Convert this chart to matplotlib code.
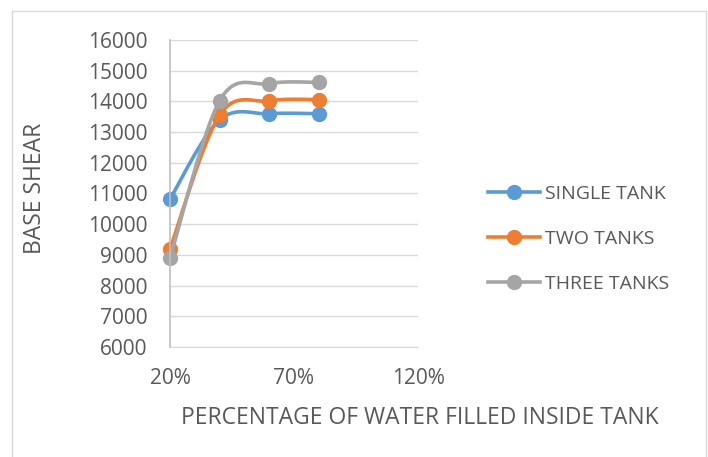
import numpy as np
import matplotlib
matplotlib.use("Agg")
import matplotlib.pyplot as plt
from matplotlib.patches import Rectangle
from matplotlib.lines import Line2D

plt.rcParams['font.family'] = ['Open Sans', 'DejaVu Sans']

x_vals = [0.2, 0.4, 0.6, 0.8]
single_tank = [10820, 13400, 13600, 13600]
two_tanks = [9200, 13550, 14020, 14060]
three_tanks = [8900, 14020, 14580, 14620]
series_names = ["SINGLE TANK", "TWO TANKS", "THREE TANKS"]
colors = ["#5B9BD5", "#ED7D31", "#A5A5A5"]
x_ticks = [0.2, 0.7, 1.2]
x_tick_labels = ["20%", "70%", "120%"]
y_ticks = list(range(6000, 16001, 1000))


def smooth(xs, ys, n=40):
    P = np.column_stack([xs, ys]).astype(float)
    ext = np.vstack([P[0], P, P[-1]])
    out = []
    t = np.linspace(0, 1, n)[:, None]
    for i in range(1, len(ext) - 2):
        p0, p1, p2, p3 = ext[i - 1], ext[i], ext[i + 1], ext[i + 2]
        c1 = p1 + (p2 - p0) / 6.0
        c2 = p2 - (p3 - p1) / 6.0
        seg = ((1 - t) ** 3) * p1 + 3 * ((1 - t) ** 2) * t * c1 + 3 * (1 - t) * t ** 2 * c2 + t ** 3 * p2
        out.append(seg if i == 1 else seg[1:])
    arr = np.vstack(out)
    return arr[:, 0], arr[:, 1]


fig = plt.figure(figsize=(7.08, 4.57), dpi=100)
fig.patches.append(Rectangle((12 / 708, -0.01), (706 - 12) / 708, 1 - 11 / 457 + 0.01,
                             transform=fig.transFigure, fill=False,
                             edgecolor="#D9D9D9", linewidth=1.0))

ax = fig.add_axes([170 / 708, 1 - 347 / 457, (418 - 170) / 708, (347 - 40) / 457])
ax.set_xlim(0.2, 1.2)
ax.set_ylim(6000, 16000)
ax.set_yticks(y_ticks)
ax.set_xticks(x_ticks)
ax.set_xticklabels(x_tick_labels)
ax.grid(axis='y', color="#D9D9D9", linewidth=1.0)
ax.set_axisbelow(True)
for s in ["top", "right"]:
    ax.spines[s].set_visible(False)
ax.spines["left"].set_color("#BFBFBF")
ax.spines["bottom"].set_color("#D9D9D9")
ax.spines["left"].set_linewidth(1.2)
ax.tick_params(length=0, labelsize=15, colors="#595959")
ax.tick_params(axis='x', pad=15)
ax.tick_params(axis='y', pad=16)

handles = []
for ys, c, name in zip([single_tank, two_tanks, three_tanks], colors, series_names):
    sx, sy = smooth(x_vals, ys)
    ax.plot(sx, sy, color=c, linewidth=2.6, solid_capstyle='round', clip_on=False)
    ax.plot(x_vals, ys, linestyle='none', marker='o', markersize=10, color=c, clip_on=False)
    handles.append(Line2D([0], [0], color=c, linewidth=2.6, marker='o', markersize=10))

leg = fig.legend(handles, series_names, loc='center left', bbox_to_anchor=(470 / 708, 1 - 239 / 457),
                 frameon=False, fontsize=14, labelspacing=1.4, handlelength=2.7, handletextpad=0.25)
for t in leg.get_texts():
    t.set_color("#595959")

fig.text(35 / 708, 1 - 188 / 457, "BASE SHEAR", rotation=90, ha='center', va='center',
         fontsize=16.5, color="#595959")
fig.text(420 / 708, 1 - 418 / 457, "PERCENTAGE OF WATER FILLED INSIDE TANK", ha='center', va='center',
         fontsize=16.5, color="#595959")

fig.savefig("out.png", dpi=100)
